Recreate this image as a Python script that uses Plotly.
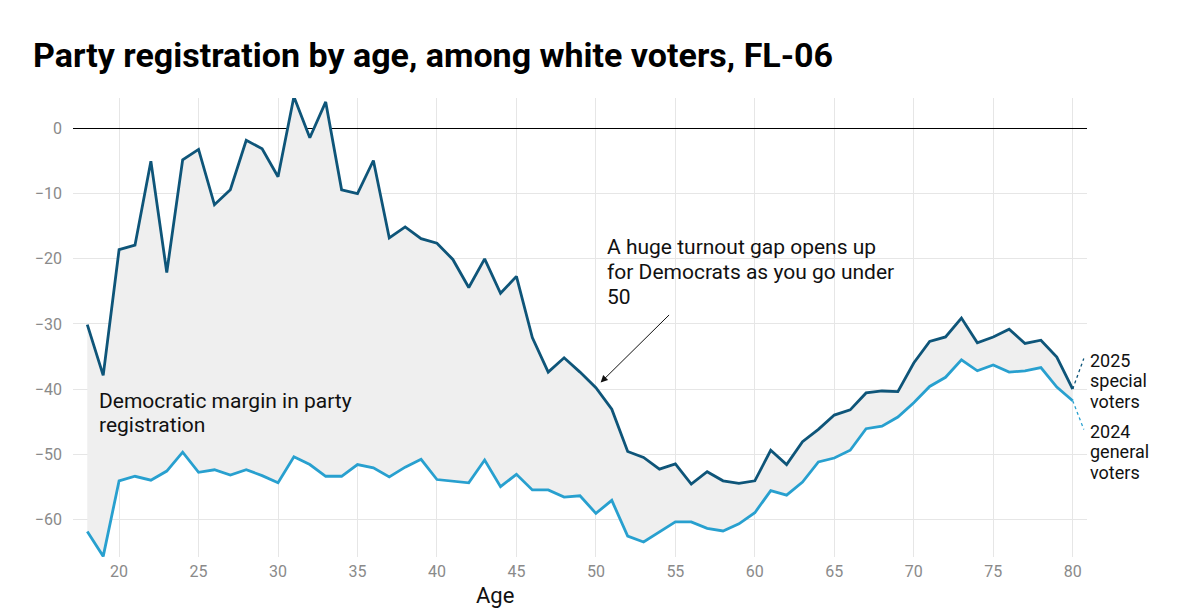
import plotly.graph_objects as go

# ages 18..80
ages = list(range(18, 81))

# Democratic margin in party registration (white voters, FL-06)
special_2025 = [
    -30.1, -37.9, -18.6, -17.9, -5.0, -22.1, -4.8, -3.2, -11.7, -9.4,
    -1.8, -3.1, -7.4, 4.9, -1.4, 4.1, -9.4, -10.0, -4.9, -16.8,
    -15.1, -16.9, -17.6, -20.1, -24.4, -20.0, -25.3, -22.7, -32.1, -37.4,
    -35.2, -37.4, -39.8, -43.1, -49.6, -50.5, -52.3, -51.5, -54.6, -52.7,
    -54.1, -54.5, -54.1, -49.4, -51.6, -48.1, -46.2, -44.0, -43.2, -40.6,
    -40.3, -40.4, -36.0, -32.7, -32.0, -29.1, -32.9, -32.0, -30.8, -33.0,
    -32.5, -35.1, -40.0,
]
general_2024 = [
    -61.9, -65.7, -54.1, -53.4, -54.0, -52.6, -49.7, -52.8, -52.4, -53.2,
    -52.4, -53.3, -54.4, -50.4, -51.6, -53.4, -53.4, -51.6, -52.1, -53.5,
    -52.0, -50.8, -53.9, -54.1, -54.4, -50.9, -55.0, -53.1, -55.5, -55.5,
    -56.6, -56.4, -59.1, -57.1, -62.6, -63.5, -62.0, -60.4, -60.4, -61.4,
    -61.8, -60.7, -59.0, -55.6, -56.3, -54.3, -51.2, -50.6, -49.4, -46.1,
    -45.7, -44.3, -42.1, -39.6, -38.2, -35.5, -37.2, -36.3, -37.4, -37.2,
    -36.7, -39.7, -41.8,
]

x_ticks = [20, 25, 30, 35, 40, 45, 50, 55, 60, 65, 70, 75, 80]
y_ticks = [0, -10, -20, -30, -40, -50, -60]
y_labels = ["0", "\u221210", "\u221220", "\u221230", "\u221240", "\u221250", "\u221260"]

gap_note = ["A huge turnout gap opens up", "for Democrats as you go under", "50"]
margin_note = ["Democratic margin in party", "registration"]
special_label = ["2025", "special", "voters"]
general_label = ["2024", "general", "voters"]

DARK = "#0e5579"
LIGHT = "#28a0cf"
FONT = "Roboto"
TEXT = "#111111"

fig = go.Figure()

fig.add_trace(go.Scatter(
    x=ages, y=general_2024, mode="lines",
    line=dict(color=LIGHT, width=2.8), name="2024 general voters",
))
fig.add_trace(go.Scatter(
    x=ages, y=special_2025, mode="lines", fill="tonexty",
    fillcolor="#efefef",
    line=dict(color=DARK, width=2.8), name="2025 special voters",
))

# dotted leaders to the end labels
fig.add_shape(type="line", xref="x", yref="y",
              x0=ages[-1], y0=special_2025[-1], x1=80.7, y1=-35.3,
              line=dict(color=DARK, width=1.3, dash="dot"))
fig.add_shape(type="line", xref="x", yref="y",
              x0=ages[-1], y0=general_2024[-1], x1=80.7, y1=-46.2,
              line=dict(color=LIGHT, width=1.3, dash="dot"))

# page has an 8px body margin, so the figure is 8px smaller than the window
fig.update_layout(
    width=1192, height=608,
    paper_bgcolor="white", plot_bgcolor="white",
    margin=dict(l=65, r=113, t=90, b=59),
    showlegend=False,
    font=dict(family=FONT, color=TEXT),
    title=dict(
        text="<b>Party registration by age, among white voters, FL-06</b>",
        x=25 / 1192, xanchor="left", xref="container",
        y=1 - 47 / 608, yanchor="middle", yref="container",
        font=dict(family=FONT, size=34, color="#000000"),
    ),
)

fig.update_xaxes(
    range=[17.1, 80.9], tickvals=x_ticks,
    showgrid=True, gridcolor="#e6e6e6", gridwidth=1,
    zeroline=False, showline=False, ticks="",
    tickfont=dict(family=FONT, size=16, color="#8a8a8a"),
    ticklabelstandoff=3,
)
fig.update_yaxes(
    range=[-65.8, 4.7], tickvals=y_ticks, ticktext=y_labels,
    showgrid=True, gridcolor="#e6e6e6", gridwidth=1,
    zeroline=True, zerolinecolor="#000000", zerolinewidth=1.2,
    showline=False, ticks="",
    tickfont=dict(family=FONT, size=16, color="#8a8a8a"),
    ticklabelstandoff=10,
)

annos = []


def text_block(lines, x, y0, step, size, xref="x"):
    for i, line in enumerate(lines):
        annos.append(dict(
            text=line, x=x, y=y0 - i * step, xref=xref, yref="y",
            xanchor="left", yanchor="middle", align="left", showarrow=False,
            font=dict(size=size, color=TEXT),
        ))


text_block(margin_note, 18.6, -41.9, 3.68, 21)
text_block(gap_note, 50.6, -18.2, 3.83, 21)
text_block(special_label, 1.001, -35.6, 3.15, 18, xref="paper")
text_block(general_label, 1.001, -46.5, 3.15, 18, xref="paper")

annos.append(dict(text="", x=50.3, y=-39.0, xref="x", yref="y",
                  ax=54.7, ay=-28.4, axref="x", ayref="y",
                  showarrow=True, arrowhead=2, arrowsize=1.4, arrowwidth=1,
                  arrowcolor=TEXT))
annos.append(dict(text="Age", x=(486.5 - 65) / 1014, y=0,
                  xref="paper", yref="paper",
                  xanchor="center", yanchor="middle", yshift=-38,
                  showarrow=False, font=dict(size=22, color=TEXT)))
fig.update_layout(annotations=annos)

fig.write_html("out.html")
